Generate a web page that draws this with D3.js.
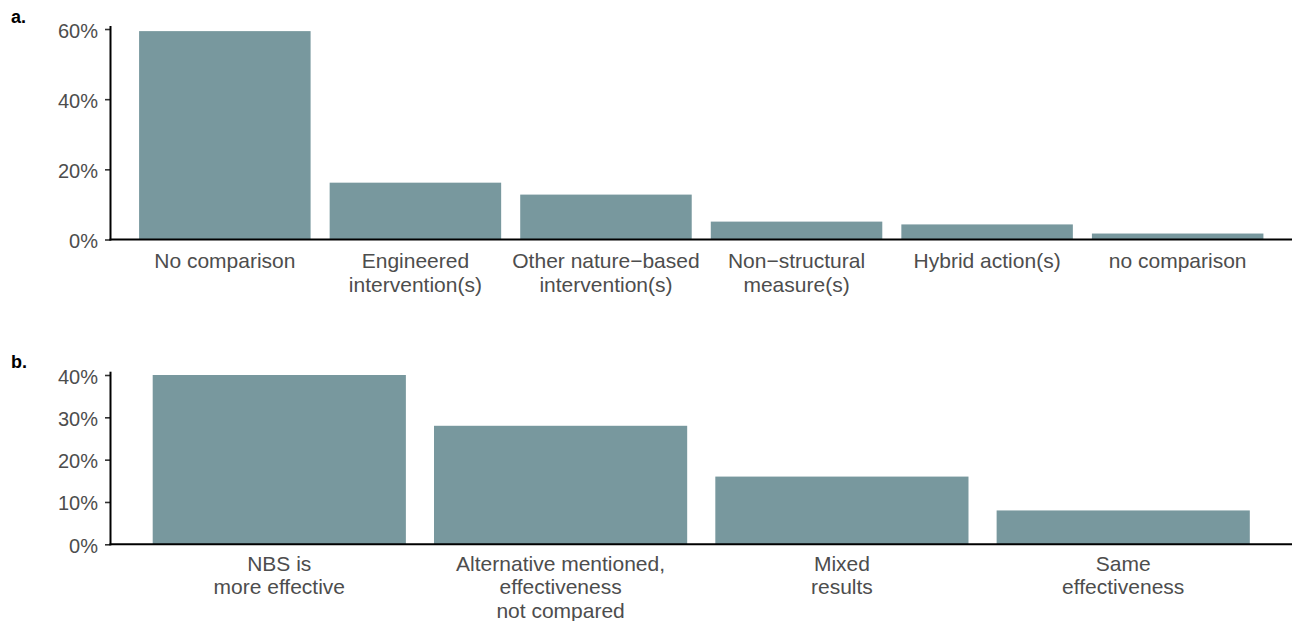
<!DOCTYPE html>
<html>
<head>
<meta charset="utf-8">
<script src="https://cdn.jsdelivr.net/npm/d3@7/dist/d3.min.js"></script>
<style>
  html, body { margin: 0; padding: 0; background: #ffffff; }
  svg { display: block; }
  text { font-family: "Liberation Sans", Arial, Helvetica, sans-serif; }
</style>
</head>
<body>
<svg id="chart" width="1292" height="621"></svg>
<script>
// Panel a: what the NBS intervention was compared against (share of studies, %)
const comparisonCategories = [
  ["No comparison"],
  ["Engineered", "intervention(s)"],
  ["Other nature\u2212based", "intervention(s)"],
  ["Non\u2212structural", "measure(s)"],
  ["Hybrid action(s)"],
  ["no comparison"]
];
const comparisonShares = [59.4, 16.2, 12.8, 5.1, 4.3, 1.7];
const comparisonTicks = [0, 20, 40, 60];

// Panel b: outcome of the effectiveness comparison (share of studies, %)
const outcomeCategories = [
  ["NBS is", "more effective"],
  ["Alternative mentioned,", "effectiveness", "not compared"],
  ["Mixed", "results"],
  ["Same", "effectiveness"]
];
const outcomeShares = [40, 28, 16, 8];
const outcomeTicks = [0, 10, 20, 30, 40];

const barColor = "#78989e";
const textColor = "#4d4d4d";
const svg = d3.select("#chart");

function drawPanel(opts) {
  const { tag, categories, values, ticks, yMax, top, bottom, left, right, labelOffset } = opts;
  const g = svg.append("g");

  const x = d3.scaleBand()
    .domain(d3.range(categories.length))
    .range([left, right])
    .paddingInner(0.1)
    .paddingOuter(0.15);

  const y = d3.scaleLinear()
    .domain([0, yMax])
    .range([bottom, top]);

  // bars
  g.selectAll("rect.bar")
    .data(values)
    .join("rect")
    .attr("class", "bar")
    .attr("x", (d, i) => x(i))
    .attr("width", x.bandwidth())
    .attr("y", d => y(d))
    .attr("height", d => y(0) - y(d))
    .attr("fill", barColor);

  // y axis
  const yAxis = d3.axisLeft(y)
    .tickValues(ticks)
    .tickFormat(d => d + "%")
    .tickSizeInner(5.5)
    .tickSizeOuter(0)
    .tickPadding(7);

  const ya = g.append("g")
    .attr("transform", `translate(${left},0)`)
    .call(yAxis);
  ya.select(".domain").remove();
  ya.selectAll(".tick line").attr("stroke", "#333333").attr("stroke-width", 1.6);
  ya.selectAll(".tick text")
    .attr("fill", textColor)
    .attr("font-size", 20)
    .attr("dy", "0.4em");

  // axis lines
  g.append("line")
    .attr("x1", left).attr("x2", left)
    .attr("y1", y(yMax)).attr("y2", bottom + 1)
    .attr("stroke", "#000").attr("stroke-width", 2);
  g.append("line")
    .attr("x1", left - 1).attr("x2", 1292)
    .attr("y1", bottom).attr("y2", bottom)
    .attr("stroke", "#000").attr("stroke-width", 2);

  // category labels, possibly over several lines
  const lineGap = 23.5;
  g.selectAll("text.cat")
    .data(categories)
    .join("text")
    .attr("class", "cat")
    .attr("text-anchor", "middle")
    .attr("font-size", 21)
    .attr("fill", textColor)
    .attr("transform", (d, i) => `translate(${x(i) + x.bandwidth() / 2},${bottom + labelOffset})`)
    .selectAll("tspan")
    .data(d => d)
    .join("tspan")
    .attr("x", 0)
    .attr("y", (d, j) => j * lineGap)
    .text(d => d);

  // panel tag
  svg.append("text")
    .attr("x", 11)
    .attr("y", opts.tagY)
    .attr("font-size", 18)
    .attr("font-weight", "bold")
    .attr("fill", "#000")
    .text(tag);
}

drawPanel({
  tag: "a.",
  tagY: 23,
  categories: comparisonCategories,
  values: comparisonShares,
  ticks: comparisonTicks,
  yMax: 60.86,
  top: 26,
  bottom: 239.5,
  left: 110.5,
  right: 1292,
  labelOffset: 28.5
});

drawPanel({
  tag: "b.",
  tagY: 368,
  categories: outcomeCategories,
  values: outcomeShares,
  ticks: outcomeTicks,
  yMax: 40.78,
  top: 371.7,
  bottom: 544.3,
  left: 110.5,
  right: 1292,
  labelOffset: 26.5
});
</script>
</body>
</html>
